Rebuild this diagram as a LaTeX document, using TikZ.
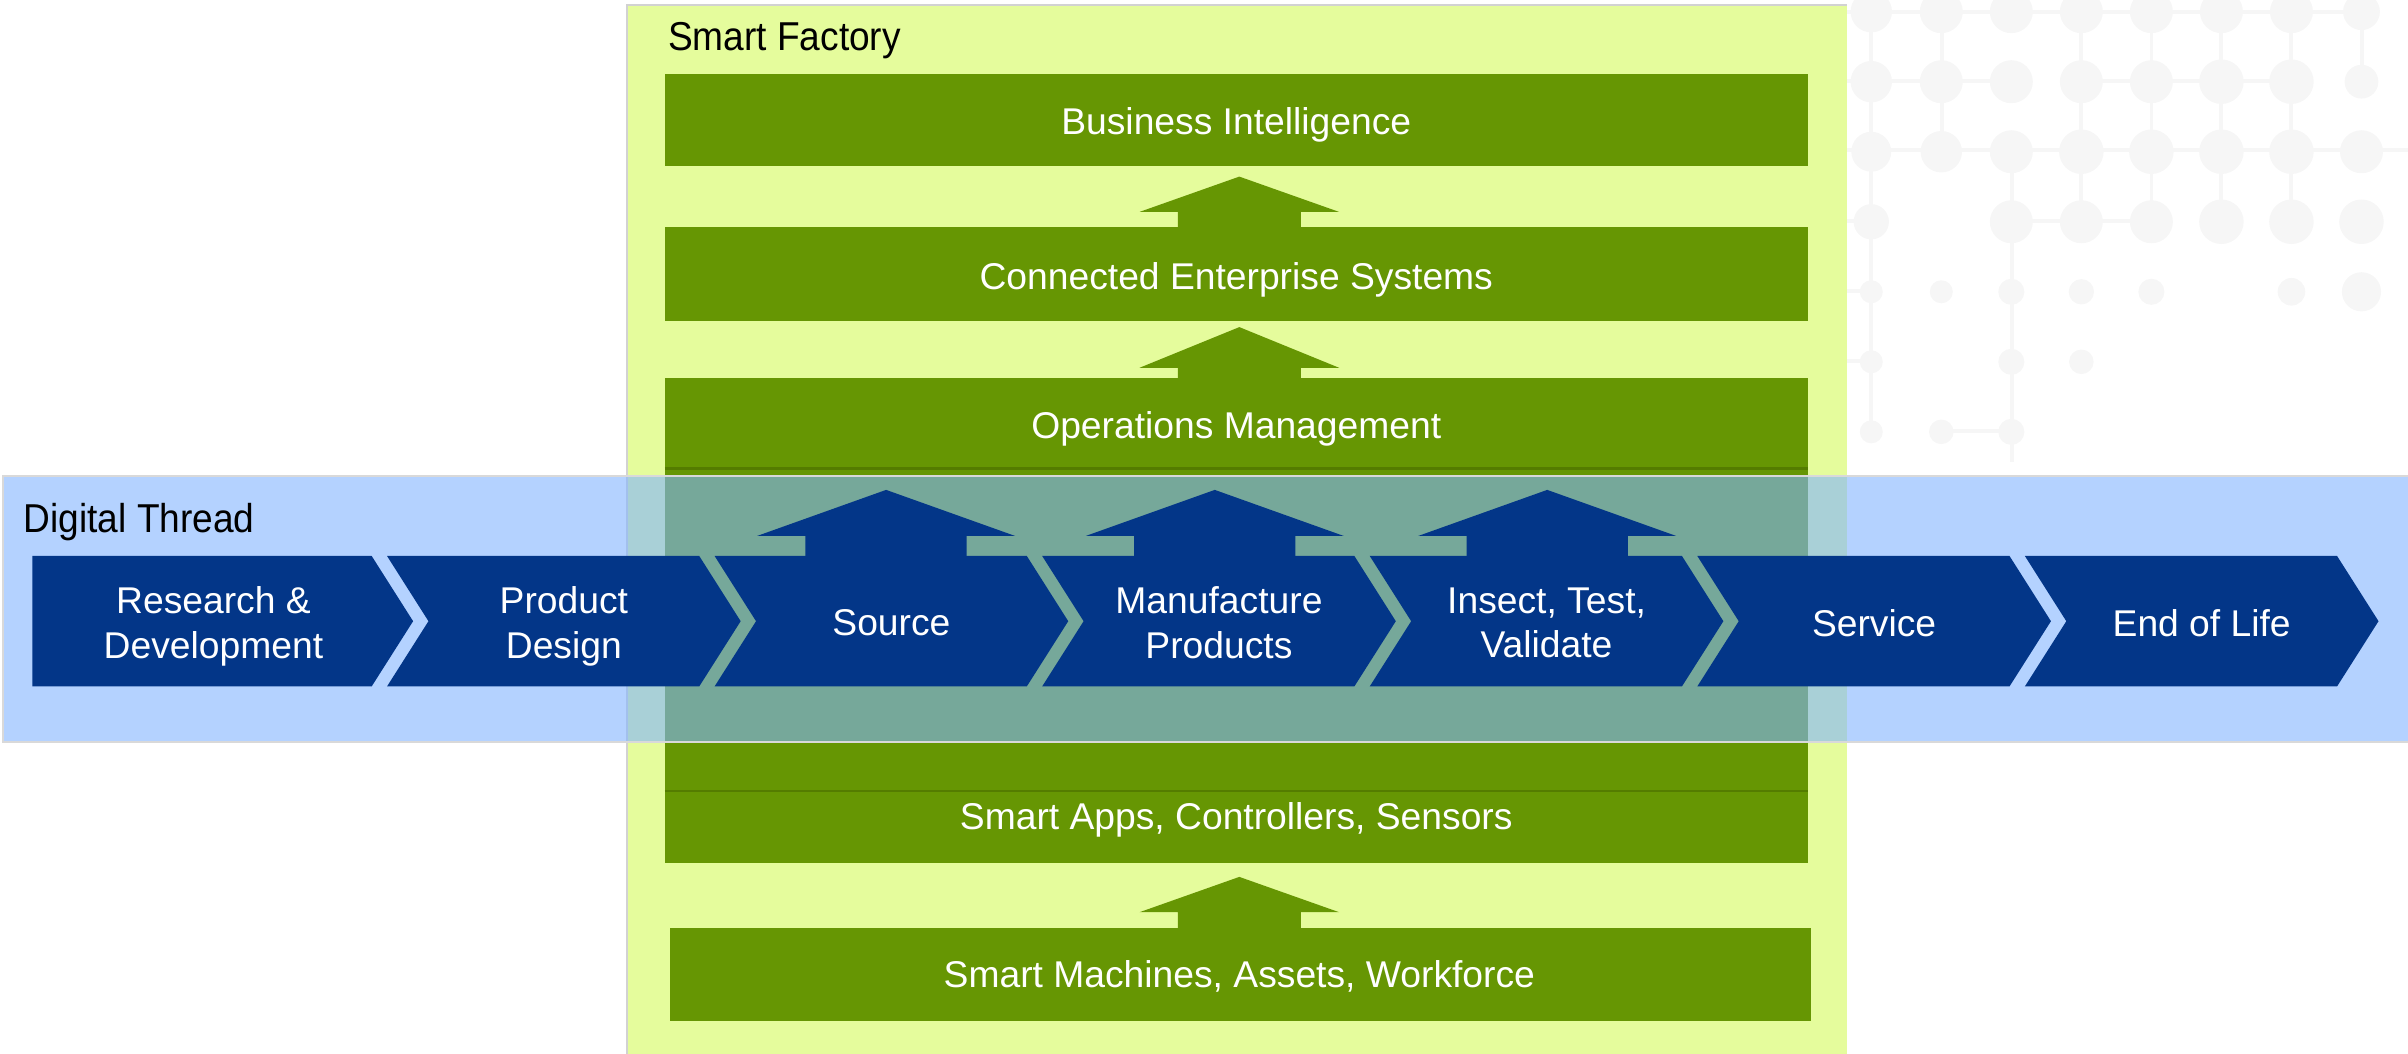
\documentclass[tikz,border=0pt]{standalone}
\usepackage{fontspec}
\setmainfont{Liberation Sans}
\newfontfamily\titlefont[FakeStretch=0.92]{Liberation Sans}
\definecolor{factoryyellow}{RGB}{229,252,156}
\definecolor{leafgreen}{RGB}{102,150,3}
\definecolor{darkleaf}{RGB}{84,124,0}
\definecolor{threadblue}{RGB}{130,180,255}
\definecolor{navyblue}{RGB}{3,54,136}
\definecolor{dotgray}{RGB}{246,246,246}

\begin{document}
\begin{tikzpicture}[x=0.4pt, y=-0.4pt, line join=miter,
                boxlabel/.style={text=white, font=\fontsize{9.7}{11.6}\selectfont, inner sep=0pt, align=center, text depth=0pt},
                titlelabel/.style={text=black, font=\titlefont\fontsize{10.5}{12}\selectfont, inner sep=0pt, anchor=base west},
                dotline/.style={dotgray, line width=1pt}]
            \useasboundingbox (0,0) rectangle (1568,685.7);
            % Background dots
            \draw[dotline] (1190,7.6) -- (1538,7.6);
            \draw[dotline] (1190,52.5) -- (1310,52.5);
            \draw[dotline] (1355,52.5) -- (1492,52.5);
            \draw[dotline] (1190,97.7) -- (1568,97.7);
            \draw[dotline] (1190,143.7) -- (1218.5,143.7);
            \draw[dotline] (1310,143.7) -- (1401,143.7);
            \draw[dotline] (1190,189.5) -- (1218.5,189.5);
            \draw[dotline] (1190,235) -- (1218.5,235);
            \draw[dotline] (1264.5,280.7) -- (1310,280.7);
            \draw[dotline] (1218.5,0) -- (1218.5,280.7);
            \draw[dotline] (1264.5,0) -- (1264.5,97.7);
            \draw[dotline] (1310,97.7) -- (1310,301);
        \foreach \x in {1355, 1401, 1446, 1492} {
            \draw[dotline] (\x,0) -- (\x,143.7);
        }
            \draw[dotline] (1538,0) -- (1538,52.5);
        \foreach \c/\r/\s in {
            0/0/5.4pt, 1/0/5.6pt, 2/0/5.6pt, 3/0/5.6pt, 4/0/5.6pt, 5/0/5.6pt, 6/0/5.6pt, 7/0/4.8pt,
            0/1/5.4pt, 1/1/5.6pt, 2/1/5.6pt, 3/1/5.6pt, 4/1/5.6pt, 5/1/5.8pt, 6/1/5.8pt, 7/1/4.4pt,
            0/2/5.2pt, 1/2/5.4pt, 2/2/5.6pt, 3/2/5.8pt, 4/2/5.8pt, 5/2/5.8pt, 6/2/5.8pt, 7/2/5.6pt,
            0/3/4.6pt, 2/3/5.6pt, 3/3/5.6pt, 4/3/5.6pt, 5/3/5.8pt, 6/3/5.8pt, 7/3/5.8pt,
            0/4/3pt, 1/4/3pt, 2/4/3.4pt, 3/4/3.3pt, 4/4/3.4pt, 6/4/3.6pt, 7/4/5.1pt,
            0/5/3pt, 2/5/3.4pt, 3/5/3.2pt,
            0/6/3pt, 1/6/3.2pt, 2/6/3.4pt} {
            \fill[dotgray] ({1218.5+45.6*\c},{7.6+45.6*\r}) circle (\s);
        }
            % Smart Factory panel
            \fill[factoryyellow] (408,3) rectangle (1203,686);
            \draw[gray!35, line width=0.5pt] (408,686) -- (408,3) -- (1203,3);
            \node[titlelabel] (factorytitle) at (434.5,32.6) {Smart Factory};
            % Layers
            \fill[leafgreen] (433,48) rectangle (1177,108);
            \node[boxlabel] (bi) at (805,79) {Business Intelligence};
            \fill[leafgreen] (433,148) rectangle (1177,209);
            \node[boxlabel] (ces) at (805,179.5) {Connected Enterprise Systems};
            \fill[leafgreen] (433,246) rectangle (1177,562);
            \draw[darkleaf, line width=0.6pt] (433,305) -- (1177,305);
            \draw[darkleaf, line width=0.6pt] (433,515) -- (1177,515);
            \node[boxlabel] (ops) at (805,276.5) {Operations Management};
            \node[boxlabel] (apps) at (805,531.6) {Smart Apps, Controllers, Sensors};
            \fill[leafgreen] (436,604) rectangle (1179,665);
            \node[boxlabel] (machines) at (807,634.4) {Smart Machines, Assets, Workforce};
            % Green up arrows
        \foreach \tip/\base/\foot in {115/138/149, 213/239.5/247, 571/594/605} {
            \fill[leafgreen] (742,\base) -- (807,\tip) -- (872,\base) -- (847,\base) -- (847,\foot) -- (767,\foot) -- (767,\base) -- cycle;
        }
            % Digital Thread band
            \fill[threadblue, fill opacity=0.6] (2,310) rectangle (1572,483);
            \draw[gray!30, line width=0.5pt] (1572,310) -- (2,310) -- (2,483) -- (1572,483);
            \node[titlelabel] (threadtitle) at (15,346.9) {Digital Thread};
            % Blue up arrows
        \foreach \cx in {577, 791, 1007.5} {
            \fill[navyblue] ({\cx-84},349) -- (\cx,319) -- ({\cx+84},349) -- ({\cx+52.5},349) -- ({\cx+52.5},362) -- ({\cx-52.5},362) -- ({\cx-52.5},349) -- cycle;
        }
            % Chevrons
        \foreach \i/\txt in {
            0/{Research \&\\Development},
            1/{Product\\Design},
            2/{Source},
            3/{Manufacture\\Products},
            4/{Insect, Test,\\Validate},
            5/{Service},
            6/{End of Life}} {
            \pgfmathsetmacro\xr{242+213.3*\i}
            \pgfmathsetmacro\xl{\i==0 ? 21 : \xr-203.3}
            \pgfmathsetmacro\nd{\i==0 ? 0 : 27}
            \pgfmathsetmacro\tx{\i==0 ? 139 : (\xl+27+\xr)/2}
            \fill[navyblue] (\xl,362) -- (\xr,362) -- ({\xr+27},404.5) -- (\xr,447) -- (\xl,447) -- ({\xl+\nd},404.5) -- cycle;
            \node[boxlabel] (chev\i) at (\tx,405.5) {\txt};
        }
            \end{tikzpicture}
\end{document}
